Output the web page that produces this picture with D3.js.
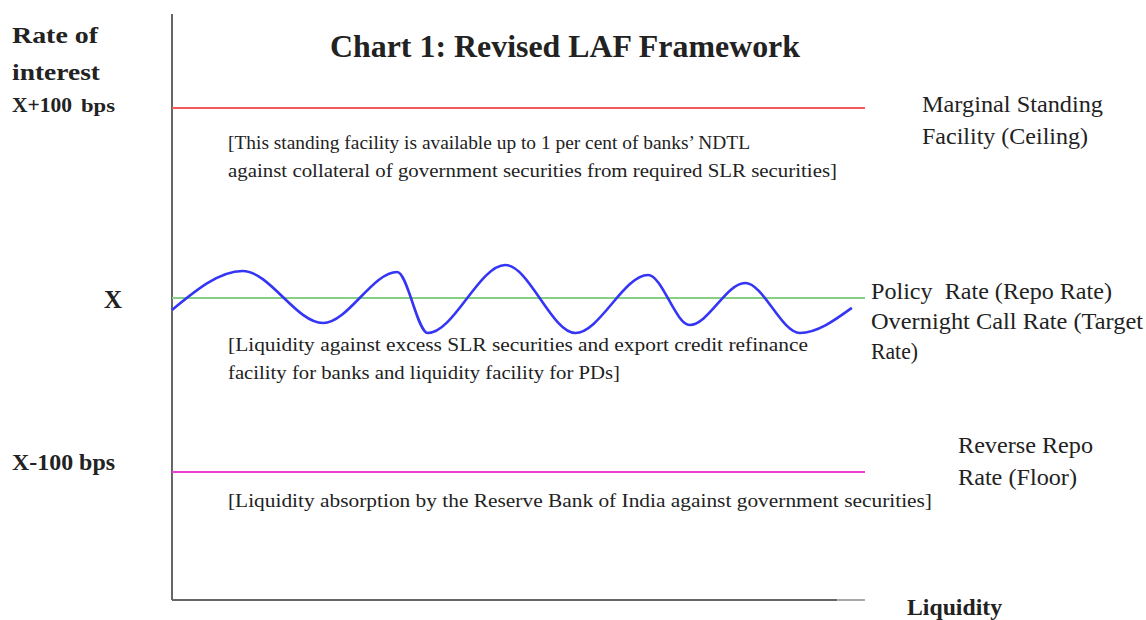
<!DOCTYPE html>
<html>
<head>
<meta charset="utf-8">
<script src="https://cdn.jsdelivr.net/npm/d3@7"></script>
<style>
  body { margin: 0; background: #fff; }
  svg text { font-family: "Liberation Serif", "Times New Roman", serif; fill: #222; }
</style>
</head>
<body>
<div id="chart"></div>
<script>
// rate levels in bps relative to policy rate X
const rateLevels = [100, 0, -100];
const rateTickLabels = ["X+100", "X", "X-100 bps"];
const levelNames = [
  ["Marginal Standing", "Facility (Ceiling)"],
  ["Policy  Rate (Repo Rate)", "Overnight Call Rate (Target", "Rate)"],
  ["Reverse Repo", "Rate (Floor)"]
];
const levelNotes = [
  ["[This standing facility is available up to 1 per cent of banks\u2019 NDTL",
   "against collateral of government securities from required SLR securities]"],
  ["[Liquidity against excess SLR securities and export credit refinance",
   "facility for banks and liquidity facility for PDs]"],
  ["[Liquidity absorption by the Reserve Bank of India against government securities]"]
];
// overnight call rate wave (liquidity 0-100, rate deviation in bps)
const waveLiquidity = [0, 10.2, 21.8, 32.5, 36.9, 48.1, 58.2, 68.7, 74.7, 82.7, 90.6, 98.1];
const waveRate = [-6.9, 14.2, -14.4, 13.7, -20.1, 17.4, -20.1, 12.1, -15.5, 7.9, -20.1, -5.7];

const width = 1146, height = 620;
const lineColors = ["#f55a5a", "#86d086", "#f03cd0"];

const svg = d3.select("#chart").append("svg")
  .attr("width", width).attr("height", height)
  .attr("viewBox", [0, 0, width, height]);

const x = d3.scaleLinear().domain([0, 100]).range([172, 865]);
const y = d3.scaleLinear().domain([-100, 0, 100]).range([472, 298, 108]);

// title
svg.append("text")
  .attr("x", 330).attr("y", 57)
  .attr("font-size", 31).attr("font-weight", "bold")
  .attr("textLength", 470).attr("lengthAdjust", "spacingAndGlyphs")
  .text("Chart 1: Revised LAF Framework");

// axis lines
svg.append("line")
  .attr("x1", x(0)).attr("x2", x(0)).attr("y1", 14).attr("y2", 600)
  .attr("stroke", "#666").attr("stroke-width", 2);
svg.append("line")
  .attr("x1", x(0)).attr("x2", x(96)).attr("y1", 600).attr("y2", 600)
  .attr("stroke", "#666").attr("stroke-width", 2);
svg.append("line")
  .attr("x1", x(96)).attr("x2", x(100)).attr("y1", 600).attr("y2", 600)
  .attr("stroke", "#aaa").attr("stroke-width", 2);

// axis titles
svg.append("text").attr("x", 12).attr("y", 43)
  .attr("font-size", 23).attr("font-weight", "bold")
  .attr("textLength", 86).attr("lengthAdjust", "spacingAndGlyphs").text("Rate of");
svg.append("text").attr("x", 12).attr("y", 80)
  .attr("font-size", 23).attr("font-weight", "bold")
  .attr("textLength", 88).attr("lengthAdjust", "spacingAndGlyphs").text("interest");
svg.append("text").attr("x", 907).attr("y", 615)
  .attr("font-size", 23).attr("font-weight", "bold")
  .attr("textLength", 95).attr("lengthAdjust", "spacingAndGlyphs").text("Liquidity");

// rate tick labels
const tickX = [12, 104, 12];
const tickDy = [4, 10, -2];
const tickSize = [21, 25, 23];
const tickLen = [60, 18, 103];
svg.append("g").selectAll("text")
  .data(rateLevels)
  .join("text")
  .attr("x", (d, i) => tickX[i])
  .attr("y", (d, i) => y(d) + tickDy[i])
  .attr("font-size", (d, i) => tickSize[i]).attr("font-weight", "bold")
  .attr("textLength", (d, i) => tickLen[i])
  .attr("lengthAdjust", "spacingAndGlyphs")
  .text((d, i) => rateTickLabels[i]);
svg.append("text")
  .attr("x", 81).attr("y", y(100) + 4)
  .attr("font-size", 18).attr("font-weight", "bold")
  .attr("textLength", 34).attr("lengthAdjust", "spacingAndGlyphs")
  .text("bps");

// level lines
svg.append("g").selectAll("line")
  .data(rateLevels)
  .join("line")
  .attr("x1", x(0)).attr("x2", x(100))
  .attr("y1", d => y(d)).attr("y2", d => y(d))
  .attr("stroke", (d, i) => lineColors[i]).attr("stroke-width", 2);

// wave
const wave = waveLiquidity.map((v, i) => [v, waveRate[i]]);
svg.append("path")
  .datum(wave)
  .attr("fill", "none").attr("stroke", "#3535f5").attr("stroke-width", 2.6)
  .attr("d", d3.line().x(d => x(d[0])).y(d => y(d[1])).curve(d3.curveMonotoneX));

// level names on the right
const nameX = [922, 871, 958];
const nameY0 = [112, 299, 453];
const nameStep = [32, 30, 32];
const nameWidths = [[181, 166], [241, 272, 47], [135, 119]];
levelNames.forEach((lines, i) => {
  svg.append("g").selectAll("text")
    .data(lines)
    .join("text")
    .attr("x", nameX[i])
    .attr("y", (d, j) => nameY0[i] + j * nameStep[i])
    .attr("font-size", 23)
    .attr("xml:space", "preserve")
    .attr("textLength", (d, j) => nameWidths[i][j])
    .attr("lengthAdjust", "spacingAndGlyphs")
    .text(d => d);
});

// bracketed notes under each line
const noteY0 = [149, 351, 507];
const noteWidths = [[522, 609], [580, 392], [704]];
levelNotes.forEach((lines, i) => {
  svg.append("g").selectAll("text")
    .data(lines)
    .join("text")
    .attr("x", 228)
    .attr("y", (d, j) => noteY0[i] + j * 28)
    .attr("font-size", 18.5)
    .attr("textLength", (d, j) => noteWidths[i][j])
    .attr("lengthAdjust", "spacingAndGlyphs")
    .text(d => d);
});
</script>
</body>
</html>
